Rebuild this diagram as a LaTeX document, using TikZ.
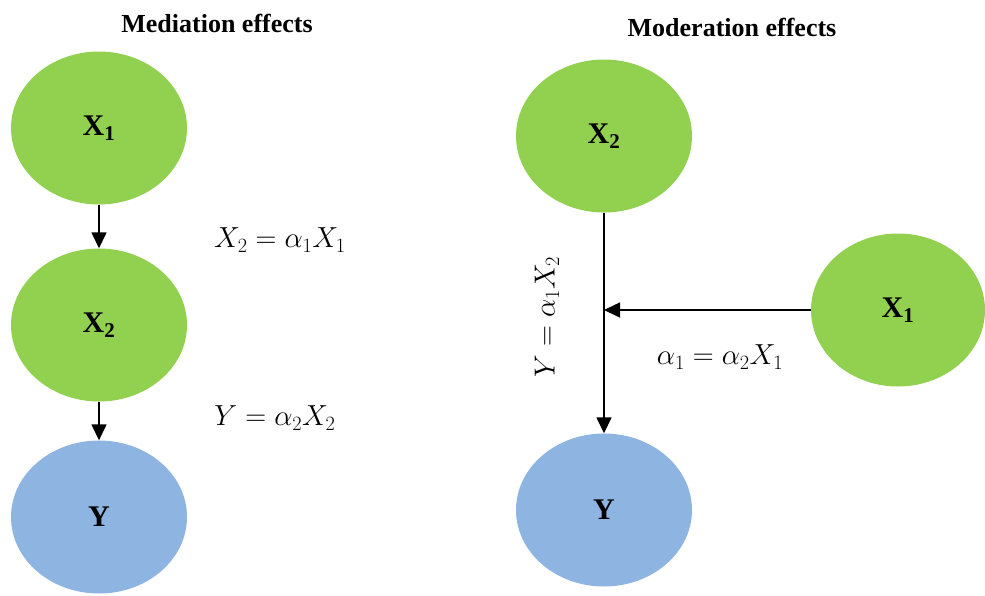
\RequirePackage{fix-cm}
\documentclass[tikz,border=0pt]{standalone}
\usepackage[no-math]{fontspec}
\setmainfont{Liberation Serif}
\usepackage{amsmath}
\usetikzlibrary{arrows.meta,shapes.geometric}
\definecolor{nodegreen}{RGB}{146,208,80}
\definecolor{nodeblue}{RGB}{142,180,226}
\begin{document}
\begin{tikzpicture}[x=1pt,y=-1pt,
    var/.style={ellipse,minimum width=176pt,minimum height=153pt,inner sep=0pt,
      font=\fontsize{30}{34}\selectfont\bfseries},
    gvar/.style={var,fill=nodegreen},
    bvar/.style={var,fill=nodeblue},
    eqlabel/.style={font=\fontsize{29}{32}\selectfont},
    ttl/.style={font=\fontsize{26}{30}\selectfont\bfseries},
    arr/.style={line width=1.5pt,-{Triangle[length=16pt,width=15pt]}}]
        % 画布大小
        \useasboundingbox (0,0) rectangle (985,595);

        % 中介效应
        \node[ttl] (t1) at (217,23) {Mediation effects};
        \node[gvar] (a1) at (99,128) {X\textsubscript{1}};
        \node[gvar] (a2) at (99,325) {X\textsubscript{2}};
        \node[bvar] (ay) at (99,517) {Y};

        \draw[arr] (a1) -- (a2);
        \draw[arr] (a2) -- (ay);

        \node[eqlabel] (e1) at (280,240) {$X_2=\alpha_1X_1$};
        \node[eqlabel] (e2) at (275,418) {$Y=\alpha_2X_2$};

        % 调节效应
        \node[ttl] (t2) at (732,27) {Moderation effects};
        \node[gvar] (b2) at (604,136) {X\textsubscript{2}};
        \node[bvar] (by) at (604,510) {Y};
        \node[gvar,minimum width=174pt] (b1) at (898,310) {X\textsubscript{1}};

        \coordinate (m) at (b2.south |- b1.west);
        \draw[arr] (b2) -- (by);
        \draw[arr] (b1) -- (m);

        \node[eqlabel,rotate=90] (e3) at (547,317) {$Y=\alpha_1X_2$};
        \node[eqlabel] (e4) at (720,357) {$\alpha_1=\alpha_2X_1$};
\end{tikzpicture}
\end{document}
